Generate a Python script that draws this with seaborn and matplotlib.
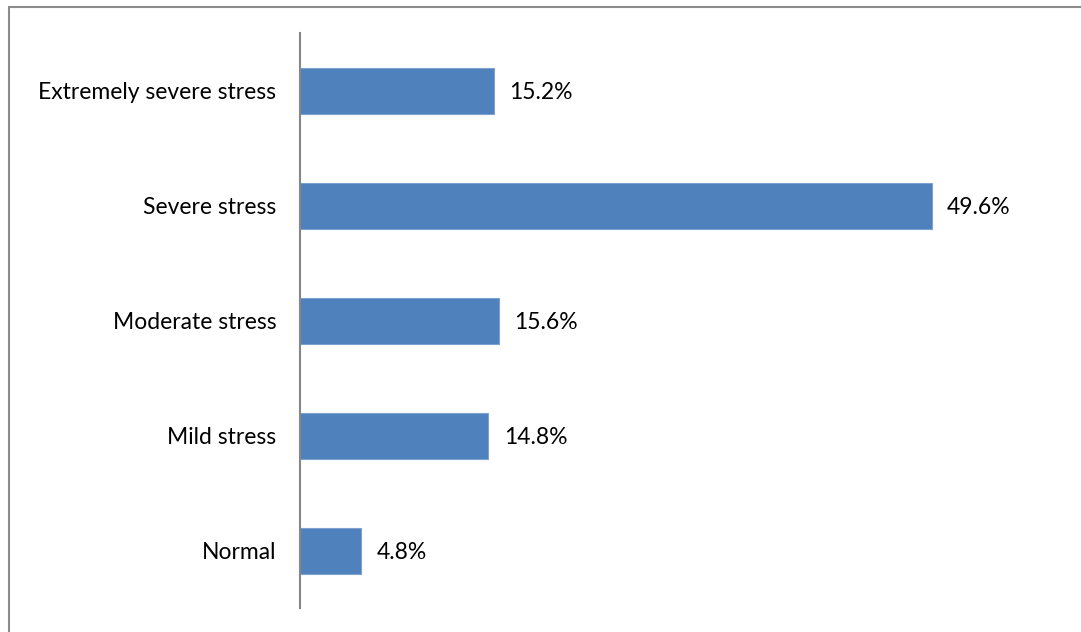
import matplotlib
matplotlib.use("Agg")
import matplotlib.pyplot as plt
import seaborn as sns
import pandas as pd
from matplotlib.patches import Rectangle

# Data
categories = ["Extremely severe stress", "Severe stress", "Moderate stress", "Mild stress", "Normal"]
percentages = [15.2, 49.6, 15.6, 14.8, 4.8]

df = pd.DataFrame({"Level": categories, "Percent": percentages})

sns.set_style("white")
plt.rcParams["font.family"] = ["Lato", "DejaVu Sans"]

fig = plt.figure(figsize=(10.81, 6.32), dpi=100)
ax = fig.add_axes([300 / 1081, 1 - 608 / 632, 764 / 1081, 575 / 632])

sns.barplot(data=df, x="Percent", y="Level", color="#4F81BD", width=0.4,
            edgecolor="#7DA2CF", linewidth=0.8, ax=ax, saturation=1)

for c in ax.containers:
    texts = ax.bar_label(c, labels=[f"{v:.1f}%" for v in percentages], padding=11,
                         fontsize=16.5, color="black")
    for t in texts:
        t.set_y(t.get_position()[1])
        t.set_va("center_baseline")

ax.set_xlim(0, 60)
ax.set_ylim(4.5, -0.5)
ax.set_xlabel("")
ax.set_ylabel("")
ax.set_xticks([])
ax.tick_params(axis="y", length=0, pad=17, labelsize=16.5, labelcolor="black")
for s in ["top", "right", "bottom"]:
    ax.spines[s].set_visible(False)
ax.spines["left"].set_color("#868686")
ax.spines["left"].set_linewidth(1.5)

# outer chart border (partly cropped in the original)
fig.patches.append(Rectangle((9 / 1081, -0.1), 1.2, 1 - 7 / 632 + 0.1,
                             transform=fig.transFigure, fill=False,
                             edgecolor="#8C8C8C", linewidth=1.5))

fig.savefig("out.png", dpi=100)
